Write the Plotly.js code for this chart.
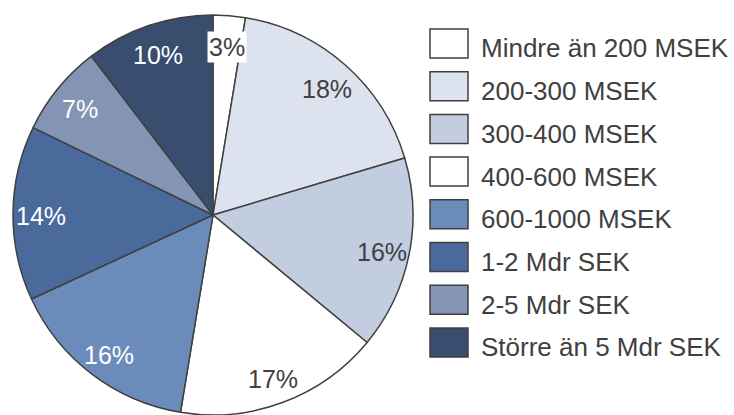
<!DOCTYPE html>
<html>
<head>
<meta charset="utf-8">
<script src="https://cdn.plot.ly/plotly-3.0.1.min.js"></script>
<style>html,body{margin:0;padding:0;background:#fff;}#chart{width:734px;height:415px;}</style>
</head>
<body>
<div id="chart"></div>
<script>
const labels = ["Mindre än 200 MSEK", "200-300 MSEK", "300-400 MSEK", "400-600 MSEK", "600-1000 MSEK", "1-2 Mdr SEK", "2-5 Mdr SEK", "Större än 5 Mdr SEK"];
const values = [2.6, 17.8, 15.6, 16.6, 15.5, 14.1, 7.4, 10.4];
const colors = ["#ffffff", "#dde3ee", "#c3cde0", "#ffffff", "#6b8cbb", "#4a6a9b", "#8494b5", "#394d6e"];
const textColors = ["#404040", "#404040", "#404040", "#404040", "#ffffff", "#ffffff", "#ffffff", "#ffffff"];

const W = 734, H = 415;
const cx = 213, cy = 215, R = 200;
const font = "'Liberation Sans', Arial, sans-serif";

const total = values.reduce((a, b) => a + b, 0);
const annotations = [];
let cum = 0;
values.forEach((v, i) => {
  const mid = (cum + v / 2) / total * 2 * Math.PI;
  cum += v;
  const r = 0.86 * R;
  const px = cx + r * Math.sin(mid);
  const py = cy - r * Math.cos(mid) + 3;
  annotations.push({
    x: px / W, y: 1 - py / H, xref: "paper", yref: "paper",
    text: Math.round(v / total * 100) + "%", showarrow: false,
    font: {family: font, size: 25, color: textColors[i]},
    bgcolor: i === 0 ? "#ffffff" : "rgba(0,0,0,0)", borderpad: 1,
    xanchor: "center", yanchor: "middle"
  });
});

// legend drawn as shapes + text
const shapes = [];
const legX0 = 430, legX1 = 468, legH = 29, legY0 = 43.5, legStep = 42.7;
labels.forEach((lab, i) => {
  const yc = legY0 + i * legStep;
  shapes.push({
    type: "rect", xref: "paper", yref: "paper",
    x0: legX0 / W, x1: legX1 / W,
    y0: 1 - (yc - legH / 2) / H, y1: 1 - (yc + legH / 2) / H,
    fillcolor: colors[i], line: {color: "#404040", width: 1.5}
  });
  annotations.push({
    x: 479 / W, y: 1 - (yc + 5) / H, xref: "paper", yref: "paper",
    text: lab, showarrow: false, xanchor: "left", yanchor: "middle",
    font: {family: font, size: 26, color: "#404040"}
  });
});

const data = [{
  type: "pie",
  labels: labels,
  values: values,
  sort: false,
  direction: "clockwise",
  rotation: 0,
  textinfo: "none",
  hoverinfo: "label+percent",
  marker: {colors: colors, line: {color: "#404040", width: 1.5}},
  domain: {x: [(cx - R) / W, (cx + R) / W], y: [1 - (cy + R) / H, 1 - (cy - R) / H]}
}];

const layout = {
  width: W, height: H,
  margin: {l: 0, r: 0, t: 0, b: 0},
  paper_bgcolor: "#ffffff",
  showlegend: false,
  annotations: annotations,
  shapes: shapes
};

Plotly.newPlot("chart", data, layout, {displayModeBar: false, staticPlot: true});
</script>
</body>
</html>
